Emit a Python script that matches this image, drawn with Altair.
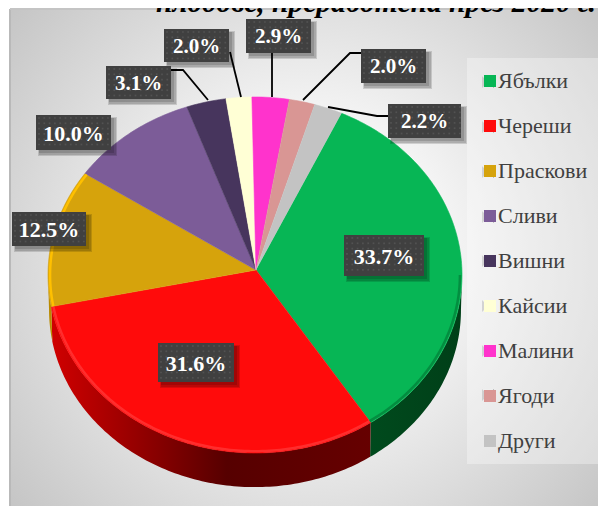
import altair as alt
import numpy as np
import pandas as pd

# ---- chart values ----
names = ["Ябълки", "Череши", "Праскови", "Сливи", "Вишни", "Кайсии", "Малини", "Ягоди", "Други"]
shares = [33.7, 31.6, 12.5, 10.0, 3.1, 2.0, 2.9, 2.0, 2.2]
labels = ["33.7%", "31.6%", "12.5%", "10.0%", "3.1%", "2.0%", "2.9%", "2.0%", "2.2%"]
title_text = "плодове, преработена през 2020 г."

# ---- styles and layout (page pixels) ----
colors = ["#07B655", "#FF0B0B", "#D6A30C", "#7C5C98", "#47355D", "#FFFFD5", "#FF33CC", "#D99694", "#C3C3C3"]
label_sizes = [22, 22, 22, 22, 21, 21, 21, 21, 21]
box_left = [344, 158, 12, 36, 106, 164, 246, 361, 388]
box_right = [424, 234, 86, 111, 171, 229, 311, 426, 461]
box_top = [235, 343, 212, 115, 66, 29, 19, 49, 104]
box_bottom = [276, 382, 246, 150, 99, 62, 53, 83, 138]
leader_x = [[328, 377, 388], [303, 350, 361], [272, 272], [241, 230], [208, 183, 171]]
leader_y = [[107, 116, 116], [100, 53, 53], [97, 53], [97, 52], [100, 70, 70]]
CX, CY, RX, RY = 255, 275, 207, 178
AX, AY = 256, 270
DEPTH = 35
START = 24.7

cum = np.concatenate([[0], np.cumsum(shares)])
a0 = START + cum[:-1] * 3.6
a1 = START + cum[1:] * 3.6

SX = alt.Scale(domain=[10, 606], nice=False, zero=False)
SY = alt.Scale(domain=[9, 506], nice=False, zero=False, reverse=True)
X = alt.X("x:Q", scale=SX, axis=None)
Y = alt.Y("y:Q", scale=SY, axis=None)


def arc(t0, t1, k=1.0, dy=0.0):
    t = np.radians(np.linspace(t0, t1, max(4, int(abs(t1 - t0)) + 2)))
    return CX + k * RX * np.sin(t), CY + dy - k * RY * np.cos(t)


# wedges of the top face
rows = []
for i, n in enumerate(names):
    ax, ay = arc(a0[i], a1[i])
    rows.append({"name": n, "k": -1, "x": AX, "y": AY})
    rows += [{"name": n, "k": j, "x": p, "y": q} for j, (p, q) in enumerate(zip(ax, ay))]
wedges = pd.DataFrame(rows)

color_scale = alt.Scale(domain=names, range=colors)
wedge_layer = (
    alt.Chart(wedges)
    .mark_line(filled=True, strokeWidth=0.6, interpolate="linear")
    .encode(
        x=X,
        y=Y,
        order="k:Q",
        fill=alt.Fill(
            "name:N",
            scale=color_scale,
            sort=names,
            legend=alt.Legend(
                title=None,
                orient="none",
                legendX=457,
                legendY=49,
                symbolType="square",
                symbolSize=144,
                symbolStrokeWidth=0,
                symbolOpacity=1,
                symbolOffset=0,
                labelFont="Liberation Serif",
                labelFontSize=22,
                labelColor="#404040",
                labelOffset=alt.ExprRef("-3"),
                rowPadding=23,
                padding=12,
                fillColor="#ffffff55",
                zindex=0,
            ),
        ),
        stroke=alt.Stroke("name:N", scale=color_scale, sort=names, legend=None),
    )
)


# side wall
def rim_layer(i, stops):
    t0, t1 = max(a0[i], 90), min(a1[i], 270)
    ax, ay = arc(t0, t1)
    bx, by = arc(t1, t0, k=0.995, dy=DEPTH)
    d = pd.DataFrame({"x": np.r_[ax, bx], "y": np.r_[ay, by]})
    d["k"] = range(len(d))
    grad = alt.LinearGradient(
        gradient="linear", x1=0, x2=1, y1=0, y2=0,
        stops=[alt.GradientStop(offset=o, color=c) for o, c in stops],
    )
    return alt.Chart(d).mark_line(fill=grad, strokeWidth=0).encode(x=X, y=Y, order="k:Q")


rims = [
    rim_layer(0, [(0, "#004A1D"), (1, "#003F18")]),
    rim_layer(1, [(0, "#D00000"), (0.22, "#A00000"), (0.55, "#560000"), (1, "#660000")]),
    rim_layer(2, [(0, "#B98A00"), (1, "#B98A00")]),
]


# lighter edge of the top face
def edge_layer(i, color, opacity):
    t0, t1 = max(a0[i], 90), min(a1[i], 305)
    ax, ay = arc(t0, t1, k=0.99)
    d = pd.DataFrame({"x": ax, "y": ay})
    d["k"] = range(len(d))
    return (
        alt.Chart(d)
        .mark_line(stroke=color, strokeWidth=2.5, opacity=opacity)
        .encode(x=X, y=Y, order="k:Q")
    )


edges = [edge_layer(0, "#038A3E", 0.9), edge_layer(1, "#FF4A4A", 0.55), edge_layer(2, "#FFC000", 1)]

# leader lines
lead = pd.DataFrame(
    [
        {"g": g, "k": j, "x": p, "y": q}
        for g, (xs, ys) in enumerate(zip(leader_x, leader_y))
        for j, (p, q) in enumerate(zip(xs, ys))
    ]
)
lead_layer = (
    alt.Chart(lead)
    .mark_line(color="#000000", strokeWidth=1.8)
    .encode(x=X, y=Y, order="k:Q", detail="g:N")
)

# label boxes
boxes = pd.DataFrame({"x": box_left, "x2": box_right, "y": box_top, "y2": box_bottom, "t": labels, "fs": label_sizes})


def shadow(off, grow):
    d = boxes.copy()
    d["x"] = d["x"] + off - grow
    d["x2"] = d["x2"] + off + grow
    d["y"] = d["y"] + off - grow
    d["y2"] = d["y2"] + off + grow
    return (
        alt.Chart(d)
        .mark_rect(color="#000000", opacity=0.14)
        .encode(x=X, x2="x2:Q", y=Y, y2="y2:Q")
    )


shadows = [shadow(4, 2), shadow(4, 1), shadow(3, 0)]
box_layer = alt.Chart(boxes).mark_rect(color="#404040").encode(x=X, x2="x2:Q", y=Y, y2="y2:Q")

dot_rows = []
for l, r, t, b in zip(box_left, box_right, box_top, box_bottom):
    for px in np.arange(l + 3, r - 1, 5.3):
        for py in np.arange(t + 3, b - 1, 5.3):
            dot_rows.append({"x": px, "y": py})
dot_layer = (
    alt.Chart(pd.DataFrame(dot_rows))
    .mark_square(size=3, color="#525252", opacity=1, strokeWidth=0)
    .encode(x=X, y=Y)
)

boxes["cx"] = (boxes["x"] + boxes["x2"]) / 2
boxes["cy"] = (boxes["y"] + boxes["y2"]) / 2
text_layer = (
    alt.Chart(boxes)
    .mark_text(font="Liberation Serif", fontWeight="bold", color="#FFFFFF", baseline="middle", dy=1)
    .encode(
        x=alt.X("cx:Q", scale=SX, axis=None),
        y=alt.Y("cy:Q", scale=SY, axis=None),
        text="t:N",
        size=alt.Size("fs:Q", scale=None, legend=None),
    )
)

# bevels over the legend swatches, as small polygons
swatch_y = [82, 127, 172, 217, 261, 306, 351, 395]


def bevel_layer(dxs, dys, color, opacity):
    d = pd.DataFrame(
        [
            {"g": g, "k": k, "x": 488 + a, "y": sy + b}
            for g, sy in enumerate(swatch_y)
            for k, (a, b) in enumerate(zip(dxs, dys))
        ]
    )
    return (
        alt.Chart(d)
        .mark_line(fill=color, opacity=opacity, strokeWidth=0)
        .encode(x=X, y=Y, order="k:Q", detail="g:N")
    )


bevels = [
    bevel_layer([6, 0, 6], [-6, 0, 6], "#000000", 0.65),
    bevel_layer([-6, 0, -6], [-6, 0, 6], "#000000", 0.2),
    bevel_layer([-6, 0, 6], [-6, 0, -6], "#FFFFFF", 0.12),
]

# edge of the panel and the title's last line
edge_v = alt.Chart(boxes).mark_rule(color="#B9B9B9", strokeWidth=2).encode(x=alt.value(0), y=alt.value(0), y2=alt.value(497))
edge_h = alt.Chart(boxes).mark_rule(color="#C4C4C4", strokeWidth=2).encode(x=alt.value(0), x2=alt.value(596), y=alt.value(0))
title_layer = (
    alt.Chart(pd.DataFrame({"x": [596], "y": [3], "t": [title_text]}))
    .mark_text(font="Liberation Serif", fontWeight="bold", fontStyle="italic", fontSize=29.5, color="#000000", align="right")
    .encode(x=X, y=Y, text="t:N")
)

panel_fill = (
    "{gradient:'radial',x1:0.5,y1:0.5,x2:0.5,y2:0.5,r1:0,r2:0.72,"
    "stops:[{offset:0,color:'#FFFFFF'},{offset:0.25,color:'#FBFBFB'},{offset:1,color:'#BDBDBD'}]}"
)

chart = (
    alt.layer(
        edge_v, edge_h, *rims, wedge_layer, *edges, lead_layer, *shadows,
        box_layer, dot_layer, text_layer, *bevels, title_layer,
    )
    .resolve_scale(x="shared", y="shared")
    .properties(
        width=596,
        height=497,
        background="#FFFFFF",
        padding={"left": 2, "top": 1, "right": -8, "bottom": 0},
        autosize=alt.AutoSizeParams(type="none"),
        view=alt.ViewBackground(fill=alt.ExprRef(panel_fill), stroke=None),
    )
)

chart.save("out.html", embed_options={"renderer": "svg", "actions": False})
